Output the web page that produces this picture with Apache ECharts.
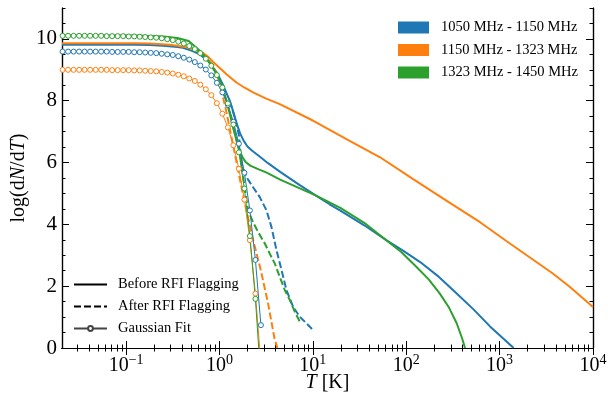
<!DOCTYPE html>
<html>
<head>
<meta charset="utf-8">
<script src="https://cdn.jsdelivr.net/npm/echarts@6/dist/echarts.min.js"></script>
<style>
  html, body { margin: 0; padding: 0; background: #fff; }
  #chart { width: 608px; height: 404px; }
</style>
</head>
<body>
<div id="chart"></div>
<script>
// band names and colours
const bandNames = ['1050 MHz - 1150 MHz', '1150 MHz - 1323 MHz', '1323 MHz - 1450 MHz']
const bandColors = ['#1f77b4', '#ff7f0e', '#2ca02c']
const styleNames = ['Before RFI Flagging', 'After RFI Flagging', 'Gaussian Fit']

// tick labels
const xMajorTicks = [0.1, 1, 10, 100, 1000, 10000]
const yMajorTicks = [0, 2, 4, 6, 8, 10]

// before RFI flagging, [T, log(dN/dT)]
const blueSolid = [[0.0206, 9.81], [0.126, 9.81], [0.178, 9.80], [0.251, 9.78], [0.355, 9.74], [0.407, 9.71],
  [0.501, 9.62], [0.617, 9.50], [0.759, 9.28], [0.933, 8.92], [1.096, 8.50], [1.288, 8.00], [1.380, 7.72],
  [1.514, 7.30], [1.660, 6.95], [1.820, 6.70], [1.995, 6.52], [2.239, 6.38], [2.630, 6.22], [3.311, 5.98],
  [4.467, 5.70], [7.244, 5.27], [10.7, 4.94], [15.1, 4.65], [19.5, 4.45], [35.5, 3.97], [61.7, 3.48],
  [93.3, 3.14], [141, 2.78], [224, 2.30], [347, 1.76], [525, 1.25], [794, 0.69], [1072, 0.33], [1413, 0.0]]
const orangeSolid = [[0.0206, 9.86], [0.126, 9.86], [0.178, 9.85], [0.295, 9.81], [0.417, 9.75], [0.537, 9.66],
  [0.661, 9.55], [0.759, 9.42], [0.851, 9.26], [1.0, 9.07], [1.189, 8.86], [1.349, 8.72], [1.520, 8.59],
  [1.862, 8.42], [2.291, 8.27], [3.162, 8.07], [4.426, 7.89], [10, 7.36], [22.9, 6.76], [52.5, 6.17],
  [117.5, 5.47], [269, 4.77], [617, 4.07], [1288, 3.38], [3715, 2.41], [5623, 1.98], [10000, 1.33]]
const greenSolid = [[0.0206, 10.12], [0.126, 10.11], [0.251, 10.08], [0.355, 10.03], [0.468, 9.93], [0.617, 9.62],
  [0.759, 9.30], [0.933, 8.86], [1.072, 8.47], [1.189, 8.00], [1.400, 7.14], [1.549, 6.62], [1.660, 6.35],
  [1.778, 6.15], [1.905, 6.02], [2.138, 5.90], [2.630, 5.78], [3.162, 5.68], [4.467, 5.45], [10.7, 4.94],
  [19.5, 4.54], [35.5, 4.05], [61.7, 3.48], [89.1, 3.10], [129, 2.62], [174, 2.22], [229, 1.76], [288, 1.30],
  [347, 0.80], [398, 0.30], [426, 0.0]]

// after RFI flagging
const blueDashed = [[1.288, 8.00], [1.514, 7.30], [1.622, 6.85], [1.722, 5.96], [1.945, 5.53], [2.291, 5.20],
  [2.704, 4.88], [3.192, 4.45], [3.606, 3.91], [4.083, 3.16], [4.624, 2.52], [5.224, 1.87], [6.152, 1.33],
  [7.261, 1.01], [10.07, 0.58]]
const orangeDashed = [[0.661, 9.55], [0.851, 9.15], [1.0, 8.6], [1.175, 7.7], [1.349, 6.8], [1.549, 5.9],
  [1.778, 5.0], [1.995, 4.3], [2.291, 3.5], [2.754, 2.55], [3.311, 1.45], [3.890, 0.3], [4.169, 0.0]]
const greenDashed = [[1.400, 7.14], [1.648, 6.39], [1.820, 5.40], [2.028, 4.45], [2.291, 4.07], [2.594, 3.75],
  [3.062, 3.38], [3.459, 3.05], [3.917, 2.73], [4.426, 2.30], [5.012, 1.87], [5.675, 1.55], [6.412, 1.17],
  [7.261, 0.85]]

// gaussian fits, sampled at log10(T)
const gaussLogT = [-1.680, -1.621, -1.562, -1.503, -1.444, -1.385, -1.326, -1.267, -1.208, -1.149,
  -1.090, -1.031, -0.972, -0.913, -0.854, -0.795, -0.736, -0.677, -0.618, -0.559,
  -0.500, -0.441, -0.382, -0.323, -0.264, -0.205, -0.146, -0.087, -0.028, 0.031,
  0.090, 0.149, 0.208, 0.267, 0.326, 0.385, 0.444]
const gaussBlue = [9.59, 9.59, 9.59, 9.59, 9.59, 9.59, 9.59, 9.59, 9.59, 9.58,
  9.58, 9.58, 9.58, 9.57, 9.57, 9.56, 9.55, 9.54, 9.52, 9.50,
  9.48, 9.44, 9.39, 9.33, 9.25, 9.14, 9.01, 8.82, 8.58, 8.27,
  7.86, 7.32, 6.61, 5.67, 4.45, 2.85, 0.74]
const gaussOrange = [9.00, 9.00, 9.00, 9.00, 9.00, 9.00, 9.00, 9.00, 9.00, 8.99,
  8.99, 8.99, 8.99, 8.98, 8.98, 8.97, 8.96, 8.95, 8.93, 8.91,
  8.88, 8.84, 8.79, 8.72, 8.64, 8.52, 8.37, 8.18, 7.92, 7.58,
  7.14, 6.56, 5.80, 4.80, 3.49, 1.76, -0.50]
const gaussGreen = [10.10, 10.10, 10.10, 10.10, 10.10, 10.10, 10.10, 10.10, 10.09, 10.09,
  10.09, 10.09, 10.08, 10.08, 10.07, 10.06, 10.05, 10.04, 10.02, 9.99,
  9.96, 9.91, 9.85, 9.77, 9.67, 9.54, 9.36, 9.13, 8.83, 8.43,
  7.91, 7.23, 6.33, 5.16, 3.62, 1.59, -1.07]

const FONT = 'Liberation Serif'
const X_MIN = 0.0206
const X_MAX = 10000

// minor tick positions 2..9 per decade
const xMinorTicks = []
for (let d = -2; d <= 3; d++) {
  for (let m = 2; m <= 9; m++) xMinorTicks.push(+(m * Math.pow(10, d)).toPrecision(3))
}
const yMinorTicks = []
for (let v = 0; v <= 11; v += 0.5) yMinorTicks.push(v)

function xAxisOf (position, ticks, len, withLabel) {
  const ax = {
    type: 'log',
    logBase: 10,
    min: X_MIN,
    max: X_MAX,
    position: position,
    axisLine: { show: true, lineStyle: { color: '#000', width: 1.2 } },
    axisTick: { show: true, inside: true, length: len, customValues: ticks, lineStyle: { color: '#000', width: 1 } },
    axisLabel: { show: false },
    splitLine: { show: false }
  }
  if (withLabel) {
    ax.axisLabel = {
      show: true,
      customValues: xMajorTicks,
      margin: 5,
      formatter: function (v) {
        const e = Math.round(Math.log10(v))
        return '{b|10}{s|' + (e < 0 ? '\u2212' + (-e) : e) + '}'
      },
      rich: {
        b: { fontFamily: FONT, fontSize: 20, color: '#000' },
        s: { fontFamily: FONT, fontSize: 14, color: '#000', padding: [0, 0, 11, 0] }
      }
    }
    ax.name = '{i|T}{n| [K]}'
    ax.nameLocation = 'middle'
    ax.nameGap = 25
    ax.nameMoveOverlap = false
    ax.nameTextStyle = {
      rich: {
        i: { fontFamily: FONT, fontSize: 20, fontStyle: 'italic', color: '#000' },
        n: { fontFamily: FONT, fontSize: 20, color: '#000' }
      }
    }
  }
  return ax
}

function yAxisOf (position, ticks, len, withLabel) {
  const ax = {
    type: 'value',
    min: 0,
    max: 11,
    position: position,
    axisLine: { show: true, onZero: false, lineStyle: { color: '#000', width: 1.2 } },
    axisTick: { show: true, inside: true, length: len, customValues: ticks, lineStyle: { color: '#000', width: 1 } },
    axisLabel: { show: false },
    splitLine: { show: false }
  }
  if (withLabel) {
    ax.axisLabel = {
      show: true,
      customValues: yMajorTicks,
      margin: 5,
      fontFamily: FONT,
      fontSize: 21,
      color: '#000'
    }
    ax.name = '{n|log(d}{i|N}{n|/d}{i|T}{n|)}'
    ax.nameLocation = 'middle'
    ax.nameGap = 33
    ax.nameMoveOverlap = false
    ax.nameRotate = 90
    ax.nameTextStyle = {
      rich: {
        i: { fontFamily: FONT, fontSize: 20, fontStyle: 'italic', color: '#000' },
        n: { fontFamily: FONT, fontSize: 20, color: '#000' }
      }
    }
  }
  return ax
}

function solid (name, data, color) {
  return {
    name: name, type: 'line', data: data, symbol: 'none', z: 3,
    lineStyle: { color: color, width: 2 }, itemStyle: { color: color }
  }
}
function dashed (name, data, color) {
  return {
    name: name, type: 'line', data: data, symbol: 'none', z: 3,
    lineStyle: { color: color, width: 2, type: [7, 3] }, itemStyle: { color: color }
  }
}
function gauss (name, ys, color) {
  return {
    name: name, type: 'line', z: 4,
    data: gaussLogT.map((lt, i) => [Math.pow(10, lt), ys[i]]),
    symbol: 'circle', symbolSize: 5, showSymbol: true, showAllSymbol: true,
    lineStyle: { color: color, width: 1 },
    itemStyle: { color: '#fff', borderColor: color, borderWidth: 1 }
  }
}

const chart = echarts.init(document.getElementById('chart'))
chart.setOption({
  animation: false,
  backgroundColor: '#fff',
  grid: { left: 62, right: 15, top: 8, bottom: 56, containLabel: false, outerBoundsMode: 'none' },
  xAxis: [
    xAxisOf('bottom', xMajorTicks, 7, true),
    xAxisOf('bottom', xMinorTicks, 3.5, false),
    xAxisOf('top', xMajorTicks, 7, false),
    xAxisOf('top', xMinorTicks, 3.5, false)
  ],
  yAxis: [
    yAxisOf('left', yMajorTicks, 7, true),
    yAxisOf('left', yMinorTicks, 3.5, false),
    yAxisOf('right', yMajorTicks, 7, false),
    yAxisOf('right', yMinorTicks, 3.5, false)
  ],
  legend: [
    {
      data: bandNames,
      orient: 'vertical',
      left: 398,
      top: 20,
      padding: 0,
      itemWidth: 31,
      itemHeight: 12,
      itemGap: 7.5,
      icon: 'rect',
      selectedMode: false,
      textStyle: { fontFamily: FONT, fontSize: 14.5, color: '#000', lineHeight: 14, padding: [0, 0, 0, 7] }
    },
    {
      data: [
        { name: styleNames[0], itemStyle: { opacity: 0 } },
        { name: styleNames[1], itemStyle: { opacity: 0 } },
        { name: styleNames[2] }
      ],
      orient: 'vertical',
      left: 73,
      top: 277,
      padding: 0,
      itemWidth: 33,
      itemHeight: 6,
      itemGap: 7,
      selectedMode: false,
      textStyle: { fontFamily: FONT, fontSize: 14.5, color: '#000', lineHeight: 14, padding: [0, 0, 0, 6] }
    }
  ],
  series: [
    solid(bandNames[0], blueSolid, bandColors[0]),
    dashed('blue after', blueDashed, bandColors[0]),
    gauss('blue fit', gaussBlue, bandColors[0]),
    solid(bandNames[1], orangeSolid, bandColors[1]),
    dashed('orange after', orangeDashed, bandColors[1]),
    gauss('orange fit', gaussOrange, bandColors[1]),
    solid(bandNames[2], greenSolid, bandColors[2]),
    dashed('green after', greenDashed, bandColors[2]),
    gauss('green fit', gaussGreen, bandColors[2]),
    // legend-only series for the line styles
    { name: styleNames[0], type: 'line', data: [], symbol: 'none', lineStyle: { color: '#000', width: 2 }, itemStyle: { color: '#000' } },
    { name: styleNames[1], type: 'line', data: [], symbol: 'none', lineStyle: { color: '#000', width: 2, type: [7, 3] }, itemStyle: { color: '#000' } },
    {
      name: styleNames[2], type: 'line', data: [], symbol: 'circle', symbolSize: 5,
      lineStyle: { color: '#444', width: 1 }, itemStyle: { color: '#fff', borderColor: '#444', borderWidth: 1 }
    }
  ]
})
</script>
</body>
</html>
